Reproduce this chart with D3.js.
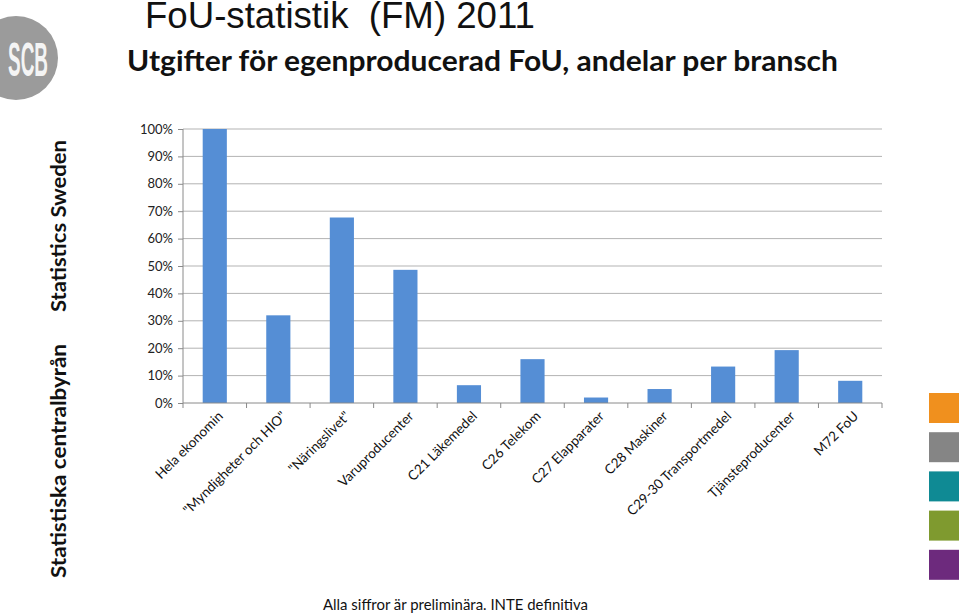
<!DOCTYPE html>
<html>
<head>
<meta charset="utf-8">
<script src="https://cdn.jsdelivr.net/npm/d3@7"></script>
<style>
  body { margin: 0; background: #fff; }
  svg { display: block; }
</style>
</head>
<body>
<svg width="959" height="614"></svg>
<script>
// Data
const categories = [
  'Hela ekonomin', '"Myndigheter och HIO"', '"Näringslivet"', 'Varuproducenter',
  'C21 Läkemedel', 'C26 Telekom', 'C27 Elapparater', 'C28 Maskiner',
  'C29-30 Transportmedel', 'Tjänsteproducenter', 'M72 FoU'
];
const shares = [100, 32, 67.7, 48.6, 6.5, 16, 2, 5.1, 13.3, 19.3, 8.1];
const yTicks = [0, 10, 20, 30, 40, 50, 60, 70, 80, 90, 100];
const swatchColors = ['#F0901E', '#858585', '#0F8A94', '#7F9A2F', '#6D2A7D'];

const svg = d3.select('svg');
const margin = { top: 129, left: 183, right: 77, bottom: 211 };
const width = +svg.attr('width');
const height = +svg.attr('height');
const innerWidth = width - margin.left - margin.right;
const innerHeight = height - margin.top - margin.bottom;

// Header
svg.append('text')
  .attr('x', 145).attr('y', 28)
  .attr('font-family', 'Liberation Sans, Arial, sans-serif')
  .attr('font-size', 36)
  .attr('textLength', 390)
  .attr('lengthAdjust', 'spacingAndGlyphs')
  .attr('fill', '#111')
  .attr('xml:space', 'preserve')
  .text('FoU-statistik  (FM) 2011');

svg.append('text')
  .attr('x', 127).attr('y', 71)
  .attr('font-family', 'Lato, Open Sans, sans-serif')
  .attr('font-weight', 'bold')
  .attr('font-size', 28)
  .attr('textLength', 711)
  .attr('lengthAdjust', 'spacingAndGlyphs')
  .attr('fill', '#111')
  .text('Utgifter för egenproducerad FoU, andelar per bransch');

// SCB logo
svg.append('circle').attr('cx', 16).attr('cy', 58).attr('r', 42).attr('fill', '#9b9b9b');
svg.append('text')
  .attr('x', 28).attr('y', 76)
  .attr('text-anchor', 'middle')
  .attr('font-family', 'Liberation Sans, sans-serif')
  .attr('font-weight', 'bold')
  .attr('font-size', 48)
  .attr('textLength', 40)
  .attr('lengthAdjust', 'spacingAndGlyphs')
  .attr('fill', '#f4f4f4')
  .text('SCB');

// Vertical side texts
const side = [
  { t: 'Statistics Sweden', y: 226, len: 172 },
  { t: 'Statistiska centralbyrån', y: 461, len: 234 }
];
side.forEach(s => {
  svg.append('text')
    .attr('transform', `translate(66,${s.y}) rotate(-90)`)
    .attr('text-anchor', 'middle')
    .attr('font-family', 'Lato, Open Sans, sans-serif')
    .attr('font-weight', 'bold')
    .attr('font-size', 21)
    .attr('textLength', s.len)
    .attr('lengthAdjust', 'spacingAndGlyphs')
    .attr('fill', '#111')
    .text(s.t);
});

// Colour swatches on the right
svg.selectAll('rect.swatch')
  .data(swatchColors)
  .enter()
  .append('rect')
  .attr('class', 'swatch')
  .attr('x', 929)
  .attr('y', (d, i) => 393 + i * 39.2)
  .attr('width', 30)
  .attr('height', 30)
  .attr('fill', d => d);

// Chart
const xScale = d3.scaleBand()
  .domain(categories)
  .range([0, innerWidth])
  .paddingInner(0.62)
  .paddingOuter(0.31);

const yScale = d3.scaleLinear()
  .domain([0, 100])
  .range([innerHeight, 0]);

const g = svg.append('g')
  .attr('transform', `translate(${margin.left},${margin.top})`);

// Gridlines
g.selectAll('line.grid')
  .data(yTicks.filter(d => d > 0))
  .enter()
  .append('line')
  .attr('class', 'grid')
  .attr('x1', 0).attr('x2', innerWidth)
  .attr('y1', d => yScale(d)).attr('y2', d => yScale(d))
  .attr('stroke', '#b3b3b3')
  .attr('stroke-width', 1);

// Y axis
const yAxis = g.append('g')
  .call(d3.axisLeft(yScale).tickValues(yTicks).tickSize(5).tickFormat(d => d + '%'));
yAxis.select('.domain').attr('stroke', '#8a8a8a').attr('d', `M0,${innerHeight}V0`);
yAxis.selectAll('.tick line').attr('stroke', '#8a8a8a');
yAxis.selectAll('text')
  .attr('font-family', 'Lato, Open Sans, sans-serif')
  .attr('font-size', 13)
  .attr('fill', '#222')
  .attr('x', -10);

// Bars
g.selectAll('rect.bar')
  .data(shares)
  .enter()
  .append('rect')
  .attr('class', 'bar')
  .attr('x', (d, i) => xScale(categories[i]))
  .attr('y', d => yScale(d))
  .attr('width', xScale.bandwidth())
  .attr('height', d => innerHeight - yScale(d))
  .attr('fill', '#558ED5');

// X axis
const step = xScale.step();
const xAxis = g.append('g')
  .attr('transform', `translate(0,${innerHeight})`)
  .call(d3.axisBottom(xScale).tickSize(0));
xAxis.select('.domain').attr('stroke', '#8a8a8a').attr('d', `M0,0H${innerWidth}`);
const edges = d3.range(categories.length + 1).map(i => i * step);
xAxis.selectAll('line.edge')
  .data(edges)
  .enter()
  .append('line')
  .attr('class', 'edge')
  .attr('x1', d => d).attr('x2', d => d)
  .attr('y1', 0).attr('y2', 5)
  .attr('stroke', '#8a8a8a');
xAxis.selectAll('.tick text')
  .attr('font-family', 'Lato, Open Sans, sans-serif')
  .attr('font-size', 13.5)
  .attr('fill', '#111')
  .attr('text-anchor', 'end')
  .attr('x', 0).attr('y', 0)
  .attr('dy', 0)
  .attr('transform', 'translate(9,14) rotate(-45)');

// Footer
svg.append('text')
  .attr('x', 323).attr('y', 610)
  .attr('font-family', 'Lato, Open Sans, sans-serif')
  .attr('font-size', 15)
  .attr('textLength', 265)
  .attr('lengthAdjust', 'spacingAndGlyphs')
  .attr('fill', '#111')
  .text('Alla siffror är preliminära. INTE definitiva');
</script>
</body>
</html>
